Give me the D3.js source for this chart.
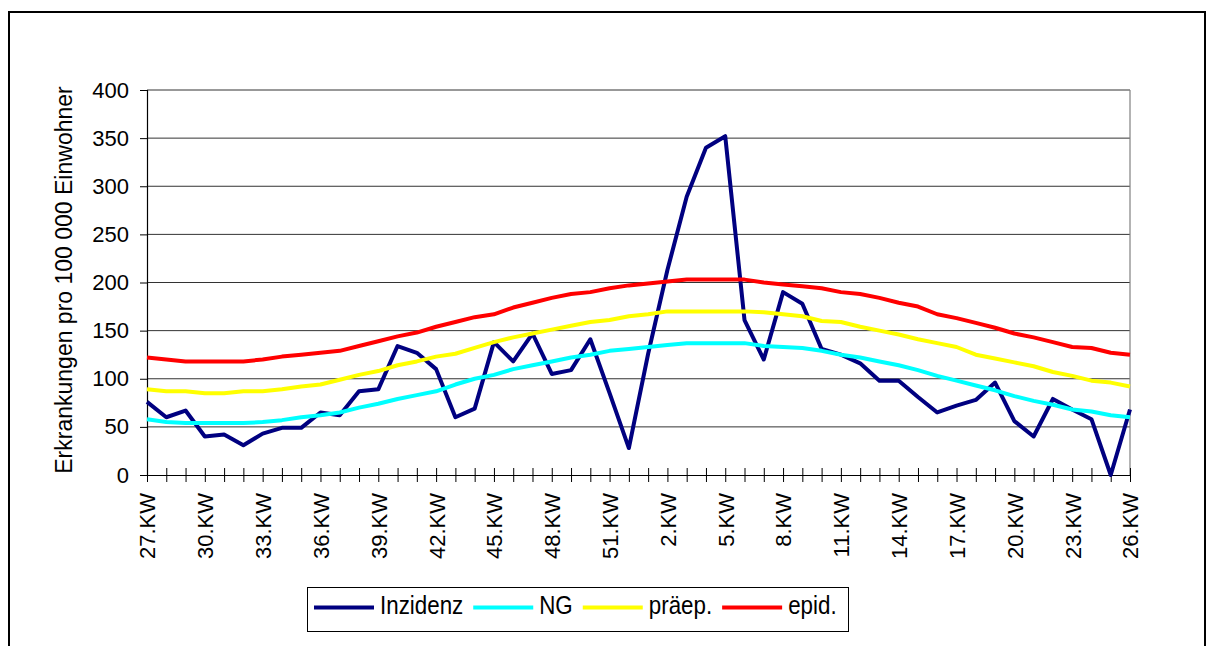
<!DOCTYPE html>
<html>
<head>
<meta charset="utf-8">
<script src="https://cdn.jsdelivr.net/npm/d3@7"></script>
<style>
  html, body { margin: 0; padding: 0; background: #fff; }
  svg { display: block; }
  text { font-family: "Liberation Sans", Arial, sans-serif; fill: #000; }
</style>
</head>
<body>
<svg id="chart" width="1208" height="646"></svg>
<script>
// Calendar weeks 27 .. 52, then 1 .. 26
const weeks = [27,28,29,30,31,32,33,34,35,36,37,38,39,40,41,42,43,44,45,46,47,48,49,50,51,52,
               1,2,3,4,5,6,7,8,9,10,11,12,13,14,15,16,17,18,19,20,21,22,23,24,25,26];

// Weeks that carry a tick label
const labelledWeeks = [27,30,33,36,39,42,45,48,51,2,5,8,11,14,17,20,23,26];

const yTicks = [0,50,100,150,200,250,300,350,400];

// Cases per 100 000 inhabitants
const inzidenz = [76,60,67,40,42,31,43,49,49,65,62,87,89,134,127,110,60,69,
                  138,118,147,105,109,141,85,28,126,213,289,340,352,161,120,190,
                  178,131,125,116,98,98,81,65,72,78,96,56,40,79,68,58,0,68];

const ng = [58,55,54,54,54,54,55,57,60,62,65,70,74,79,83,87,94,100,
            104,110,114,118,122,125,129,131,133,135,137,137,137,137,134,133,
            132,129,125,122,118,114,109,103,98,93,88,82,77,73,68,66,62,60];

const praep = [89,87,87,85,85,87,87,89,92,94,99,104,108,114,118,123,126,132,
               138,143,147,151,155,159,161,165,167,170,170,170,170,170,169,167,
               165,160,159,154,150,146,141,137,133,125,121,117,113,107,103,98,96,92];

const epid = [122,120,118,118,118,118,120,123,125,127,129,134,139,144,148,154,159,164,
              167,174,179,184,188,190,194,197,199,201,203,203,203,203,200,198,
              196,194,190,188,184,179,175,167,163,158,153,147,143,138,133,132,127,125];

const seriesNames = ["Inzidenz", "NG", "präep.", "epid."];
const seriesColors = ["#000080", "#00FFFF", "#FFFF00", "#FF0000"];
const seriesValues = [inzidenz, ng, praep, epid];

const svg = d3.select("#chart");

// outer chart frame
svg.append("rect")
  .attr("x", 9).attr("y", 12)
  .attr("width", 1196).attr("height", 700)
  .attr("fill", "none").attr("stroke", "#000").attr("stroke-width", 2);

const plotLeft = 147, plotRight = 1130, plotTop = 90, plotBottom = 475;

const x = d3.scalePoint().domain(d3.range(weeks.length)).range([plotLeft, plotRight]);
const y = d3.scaleLinear().domain([0, 400]).range([plotBottom, plotTop]);

// horizontal gridlines
svg.append("g")
  .selectAll("line")
  .data(yTicks.filter(v => v > 0))
  .join("line")
  .attr("x1", plotLeft).attr("x2", plotRight)
  .attr("y1", d => y(d)).attr("y2", d => y(d))
  .attr("stroke", "#333").attr("stroke-width", 1);

// plot-area border on the right
svg.append("line")
  .attr("x1", plotRight).attr("x2", plotRight)
  .attr("y1", plotTop).attr("y2", plotBottom)
  .attr("stroke", "#808080").attr("stroke-width", 1.2);

// y axis
const yAxis = svg.append("g")
  .attr("transform", `translate(${plotLeft},0)`)
  .call(d3.axisLeft(y).tickValues(yTicks).tickSize(7).tickPadding(11).tickFormat(d3.format("d")));
yAxis.selectAll("text").style("font-size", "22px").attr("font-family", "Liberation Sans, Arial, sans-serif");
yAxis.selectAll("line").attr("stroke", "#000");
yAxis.select(".domain").attr("stroke", "#000").attr("stroke-width", 1.2);

// x axis: ticks on every week, crossing the axis line
const xAxis = svg.append("g")
  .attr("transform", `translate(0,${plotBottom})`)
  .call(d3.axisBottom(x).tickSize(7).tickSizeOuter(0)
        .tickFormat(i => labelledWeeks.includes(weeks[i]) && (i % 3 === 0) ? weeks[i] + ".KW" : ""));
xAxis.select(".domain").attr("stroke", "#000").attr("stroke-width", 1.2);
xAxis.selectAll(".tick line").attr("stroke", "#000").attr("y1", -7);
xAxis.selectAll(".tick text")
  .style("font-size", "22px")
  .attr("font-family", "Liberation Sans, Arial, sans-serif")
  .attr("transform", "rotate(-90)")
  .attr("text-anchor", "end")
  .attr("x", -18)
  .attr("y", 0)
  .attr("dy", "0.36em");

// axis title
svg.append("text")
  .attr("transform", "translate(72,280) rotate(-90)")
  .attr("text-anchor", "middle")
  .style("font-size", "23px")
  .text("Erkrankungen pro 100 000 Einwohner");

// series lines
const line = d3.line().x((d, i) => x(i)).y(d => y(d));
seriesValues.forEach((vals, k) => {
  svg.append("path")
    .datum(vals)
    .attr("d", line)
    .attr("fill", "none")
    .attr("stroke", seriesColors[k])
    .attr("stroke-width", 4)
    .attr("stroke-linejoin", "round");
});

// legend
const legend = svg.append("g");
legend.append("rect")
  .attr("x", 307.5).attr("y", 587.5)
  .attr("width", 541).attr("height", 44)
  .attr("fill", "#fff").attr("stroke", "#000").attr("stroke-width", 1);

let cx = 314;
const ly = 607.5;
seriesNames.forEach((name, k) => {
  legend.append("line")
    .attr("x1", cx).attr("x2", cx + 60)
    .attr("y1", ly).attr("y2", ly)
    .attr("stroke", seriesColors[k]).attr("stroke-width", 4);
  const g = legend.append("g").attr("transform", `translate(${cx + 66},614) scale(0.86,1)`);
  const t = g.append("text").style("font-size", "26px").text(name);
  const w = t.node().getComputedTextLength() * 0.86;
  cx += 66 + w + 10;
});
</script>
</body>
</html>
